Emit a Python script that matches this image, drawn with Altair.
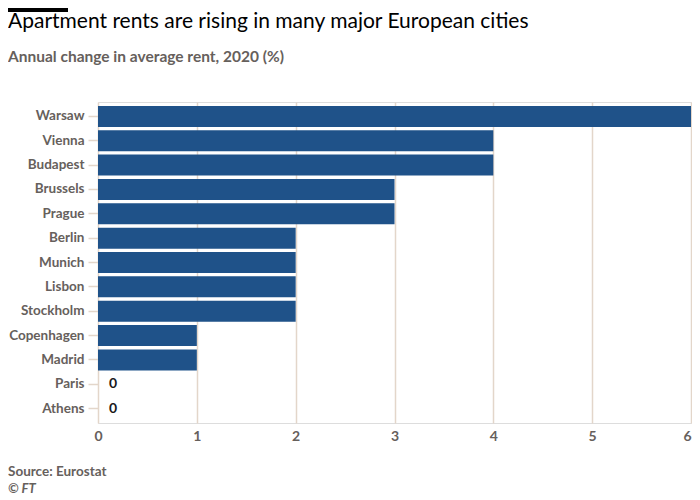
import altair as alt
import pandas as pd

cities = ["Warsaw", "Vienna", "Budapest", "Brussels", "Prague", "Berlin", "Munich",
          "Lisbon", "Stockholm", "Copenhagen", "Madrid", "Paris", "Athens"]
values = [6, 4, 4, 3, 3, 2, 2, 2, 2, 1, 1, 0, 0]
x_ticks = [0, 1, 2, 3, 4, 5, 6]

title_text = "Apartment rents are rising in many major European cities"
subtitle_text = "Annual change in average rent, 2020 (%)"
source_text = "Source: Eurostat"
credit_text = "© FT"

df = pd.DataFrame({"city": cities, "value": values})

FONT = "Lato"
GREY = "#66605c"
GRID = "#e3d6ca"
BAR = "#1f5289"

y_enc = alt.Y("city:N", sort=cities,
              scale=alt.Scale(paddingInner=0.137, paddingOuter=0.16),
              axis=alt.Axis(title=None, labelColor=GREY, labelFont=FONT, labelFontSize=13.5,
                            labelFontWeight="bold", tickColor=GRID, tickSize=10, tickWidth=1.5,
                            domain=False, labelPadding=4))
x_enc = alt.X("value:Q", scale=alt.Scale(domain=[0, 6], nice=False),
              axis=alt.Axis(title=None, values=x_ticks, grid=True, gridColor=GRID, gridWidth=1.5,
                            ticks=False, domain=False, labelColor=GREY, labelFont=FONT,
                            labelFontSize=14, labelFontWeight="bold", labelPadding=6,
                            labelFlush=False,
                            labelAlign=alt.ExprRef("datum.value == 6 ? 'right' : 'center'"),
                            format="d"))

bars = alt.Chart(df).mark_bar(color=BAR).encode(x=x_enc, y=y_enc)

zeros = alt.Chart(df).transform_filter(alt.datum.value == 0).mark_text(
    dx=15, align="center", font=FONT, fontSize=14, fontWeight="bold", color="#1a1a1a"
).encode(x="value:Q", y=alt.Y("city:N", sort=cities), text=alt.Text("value:Q", format="d"))


def note(text, y, size, color, weight="bold", style="normal"):
    return alt.Chart(pd.DataFrame({"t": [text]})).mark_text(
        align="left", baseline="middle", font=FONT, fontSize=size, fontWeight=weight,
        fontStyle=style, color=color).encode(x=alt.value(-90), y=alt.value(y), text="t:N")


title = note(title_text, -80, 21, "#000000", weight="normal")
subtitle = note(subtitle_text, -45, 15.5, GREY)
src = note(source_text, 370, 13.5, GREY)
credit = note(credit_text, 387, 13, GREY, style="italic")

topbar = alt.Chart(pd.DataFrame({"a": [0]})).mark_rule(color="#000000", strokeWidth=4).encode(
    x=alt.value(-90), x2=alt.value(-30), y=alt.value(-92))

chart = alt.layer(bars, zeros, title, subtitle, src, credit, topbar).properties(
    width=593, height=321,
    autosize=alt.AutoSizeParams(type="none"),
    padding={"left": 90, "top": 94, "right": 1, "bottom": 78},
).configure_view(stroke=None).configure(background="white")

chart.save("out.html", embed_options={"renderer": "svg", "actions": False})
